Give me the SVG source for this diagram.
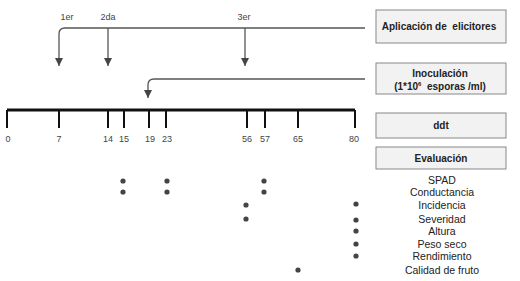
<svg xmlns="http://www.w3.org/2000/svg" width="520" height="281" viewBox="0 0 520 281">
<defs>
<marker id="ah" viewBox="0 0 10 10" refX="10" refY="5" markerWidth="8" markerHeight="8" markerUnits="userSpaceOnUse" orient="auto">
<path d="M0,0 L10,5 L0,10 Z" fill="#444"/>
</marker>
<style>
.ar{stroke:#555;stroke-width:1.3;fill:none}
.axis{stroke:#111;stroke-width:3;fill:none}
.tick{stroke:#111;stroke-width:2;fill:none}
.box{fill:#f2f2f2;stroke:#888;stroke-width:1}
.bt{font-family:"Liberation Sans",Arial,sans-serif;font-size:10px;font-weight:bold;fill:#222;text-anchor:middle;white-space:pre}
.tl{font-family:"Liberation Sans",Arial,sans-serif;font-size:9px;fill:#444;text-anchor:middle}
.ev{font-family:"Liberation Sans",Arial,sans-serif;font-size:10.5px;fill:#222;text-anchor:middle}
.dot{fill:#444}
</style>
</defs>
<rect width="520" height="281" fill="#fff"/>
<g id="connectors">
<path class="ar" d="M365,28 H65 Q59,28 59,34 V66" marker-end="url(#ah)"/>
<path class="ar" d="M108,28 V66" marker-end="url(#ah)"/>
<path class="ar" d="M245,28 V66" marker-end="url(#ah)"/>
<path class="ar" d="M365,79 H154 Q148,79 148,85 V98" marker-end="url(#ah)"/>
</g>
<g id="labels-top">
<text class="tl" x="67" y="20">1er</text>
<text class="tl" x="108" y="20">2da</text>
<text class="tl" x="244" y="20">3er</text>
</g>
<g id="timeline">
<path class="axis" d="M7,110 H355"/>
<path class="tick" d="M7,110 V128 M59,110 V128 M108,110 V128 M124,110 V128 M149,110 V128 M166,110 V128 M247,110 V128 M265,110 V128 M298,110 V128 M355,110 V128"/>
<text class="tl" x="8" y="142">0</text>
<text class="tl" x="59" y="142">7</text>
<text class="tl" x="108" y="142">14</text>
<text class="tl" x="124" y="142">15</text>
<text class="tl" x="150" y="142">19</text>
<text class="tl" x="167" y="142">23</text>
<text class="tl" x="247" y="142">56</text>
<text class="tl" x="265" y="142">57</text>
<text class="tl" x="298" y="142">65</text>
<text class="tl" x="354" y="142">80</text>
</g>
<g id="box-aplicacion">
<rect class="box" x="376" y="10" width="130" height="33"/>
<text class="bt" x="439" y="30">Aplicación de  elicitores</text>
</g>
<g id="box-inoculacion">
<rect class="box" x="376" y="63" width="130" height="31"/>
<text class="bt" x="440" y="77">Inoculación</text>
<text class="bt" x="440" y="90">(1*10<tspan font-size="6" dy="-4">6</tspan><tspan dy="4">  esporas /ml)</tspan></text>
</g>
<g id="box-ddt">
<rect class="box" x="376" y="113" width="130" height="25"/>
<text class="bt" x="441" y="129">ddt</text>
</g>
<g id="box-evaluacion">
<rect class="box" x="376" y="147" width="130" height="22"/>
<text class="bt" x="441" y="162">Evaluación</text>
</g>
<g id="eval-labels">
<text class="ev" x="442" y="184">SPAD</text>
<text class="ev" x="442" y="196">Conductancia</text>
<text class="ev" x="442" y="209">Incidencia</text>
<text class="ev" x="442" y="223">Severidad</text>
<text class="ev" x="442" y="235">Altura</text>
<text class="ev" x="442" y="248">Peso seco</text>
<text class="ev" x="442" y="260">Rendimiento</text>
<text class="ev" x="442" y="274">Calidad de fruto</text>
</g>
<g id="dots">
<circle class="dot" cx="123" cy="181" r="2.6"/>
<circle class="dot" cx="167" cy="181" r="2.6"/>
<circle class="dot" cx="264" cy="181" r="2.6"/>
<circle class="dot" cx="123" cy="192" r="2.6"/>
<circle class="dot" cx="167" cy="192" r="2.6"/>
<circle class="dot" cx="264" cy="192" r="2.6"/>
<circle class="dot" cx="246" cy="205" r="2.6"/>
<circle class="dot" cx="356" cy="204" r="2.6"/>
<circle class="dot" cx="246" cy="219" r="2.6"/>
<circle class="dot" cx="356" cy="220" r="2.6"/>
<circle class="dot" cx="356" cy="231" r="2.6"/>
<circle class="dot" cx="356" cy="244" r="2.6"/>
<circle class="dot" cx="356" cy="256" r="2.6"/>
<circle class="dot" cx="298" cy="270" r="2.6"/>
</g>
</svg>
